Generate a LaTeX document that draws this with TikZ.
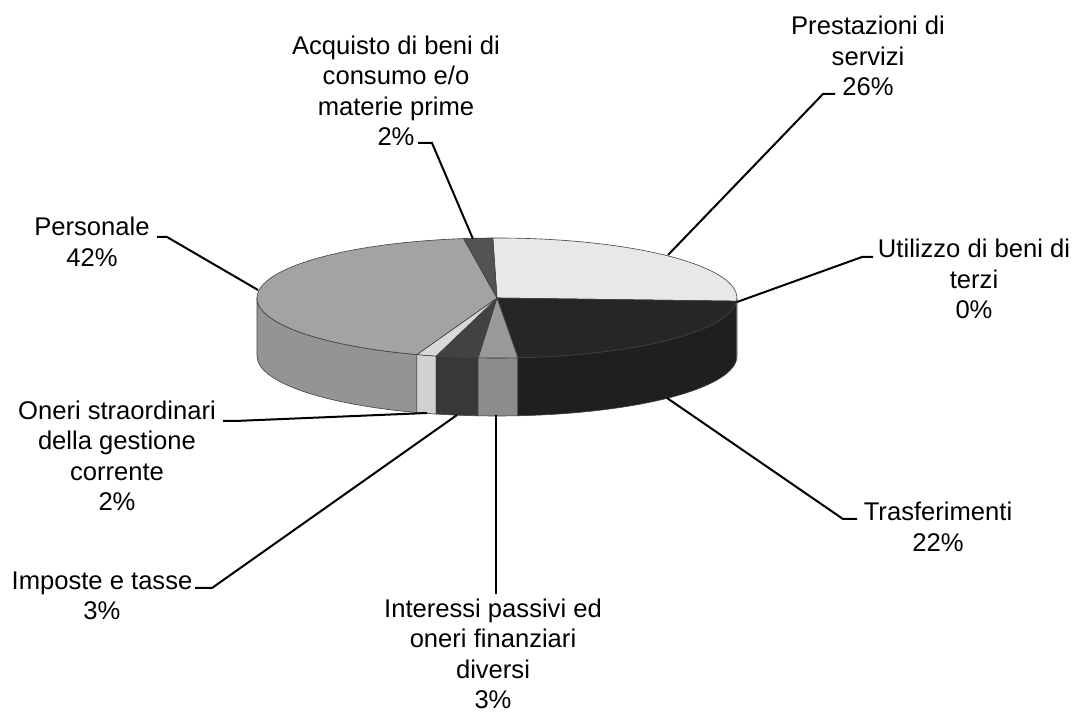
\documentclass[tikz,border=0pt]{standalone}
\usepackage{fontspec}
\setmainfont{Liberation Sans}
\begin{document}
\begin{tikzpicture}[x=1pt,y=1pt,
  lbl/.style={align=center,inner sep=0pt,font=\fontsize{25.6}{30.5}\selectfont},
  leader/.style={line width=2pt,black},
  face/.style={draw=black!75,line width=0.6pt}]
\useasboundingbox (0,0) rectangle (1076,715);
\def\rx{240pt}\def\ry{60pt}
% pie
\begin{scope}[shift={(497,417)}]
\coordinate (c) at (0,0);
% sides
\newcommand{\sidepiece}[3]{%
  \fill[face,fill=#3] (#1:\rx\space and \ry) arc[start angle=#1,end angle=#2,x radius=\rx,y radius=\ry]
   -- ++(0,-58) arc[start angle=#2,end angle=#1,x radius=\rx,y radius=\ry] -- cycle;}
\newcommand{\toppiece}[3]{%
  \fill[face,fill=#3] (c) -- (#1:\rx\space and \ry) arc[start angle=#1,end angle=#2,x radius=\rx,y radius=\ry] -- cycle;}
\sidepiece{180}{250.5}{black!42}
\sidepiece{250.5}{255.3}{black!18}
\sidepiece{255.3}{265.5}{black!78}
\sidepiece{265.5}{275}{black!45}
\sidepiece{275}{357}{black!88}
\sidepiece{357}{360}{black!12}
\toppiece{91}{-3}{black!9}
\toppiece{-3}{-85}{black!85}
\toppiece{-85}{-94.5}{black!40}
\toppiece{-94.5}{-104.7}{black!74}
\toppiece{-104.7}{-109.5}{black!15}
\toppiece{-109.5}{-262}{black!36}
\toppiece{98}{91}{black!68}
\end{scope}
% labels
\node[lbl] (acq) at (396,624) {Acquisto di beni di\\consumo e/o\\materie prime\\2\%};
\node[lbl] (pre) at (868,659) {Prestazioni di\\servizi\\26\%};
\node[lbl] (uti) at (974,436) {Utilizzo di beni di\\terzi\\0\%};
\node[lbl] (tra) at (938,188) {Trasferimenti\\22\%};
\node[lbl] (int) at (493,61) {Interessi passivi ed\\oneri finanziari\\diversi\\3\%};
\node[lbl] (imp) at (102,119) {Imposte e tasse\\3\%};
\node[lbl] (one) at (117,259) {Oneri straordinari\\della gestione\\corrente\\2\%};
\node[lbl] (per) at (92,473) {Personale\\42\%};
% leader end points
\coordinate (sAcq) at (418,572); \coordinate (eAcq) at (473,476);
\coordinate (sPre) at (835,621); \coordinate (ePre) at (668,460);
\coordinate (sUti) at (873,458); \coordinate (eUti) at (737,413);
\coordinate (sTra) at (857,196); \coordinate (eTra) at (667,317);
\coordinate (sInt) at (496,121); \coordinate (eInt) at (496,300);
\coordinate (sImp) at (195,127); \coordinate (eImp) at (457,300);
\coordinate (sOne) at (223,294); \coordinate (eOne) at (427,302);
\coordinate (sPer) at (157,478); \coordinate (ePer) at (258,425);
\draw[leader] (sAcq) -- ++(14,0) -- (eAcq);
\draw[leader] (sPre) -- ++(-12,0) -- (ePre);
\draw[leader] (sUti) -- ++(-11,0) -- (eUti);
\draw[leader] (sTra) -- ++(-14,0) -- (eTra);
\draw[leader] (sInt) -- (eInt);
\draw[leader] (sImp) -- ++(17,0) -- (eImp);
\draw[leader] (sOne) -- ++(12,0) -- (eOne);
\draw[leader] (sPer) -- ++(10,0) -- (ePer);
\end{tikzpicture}
\end{document}
